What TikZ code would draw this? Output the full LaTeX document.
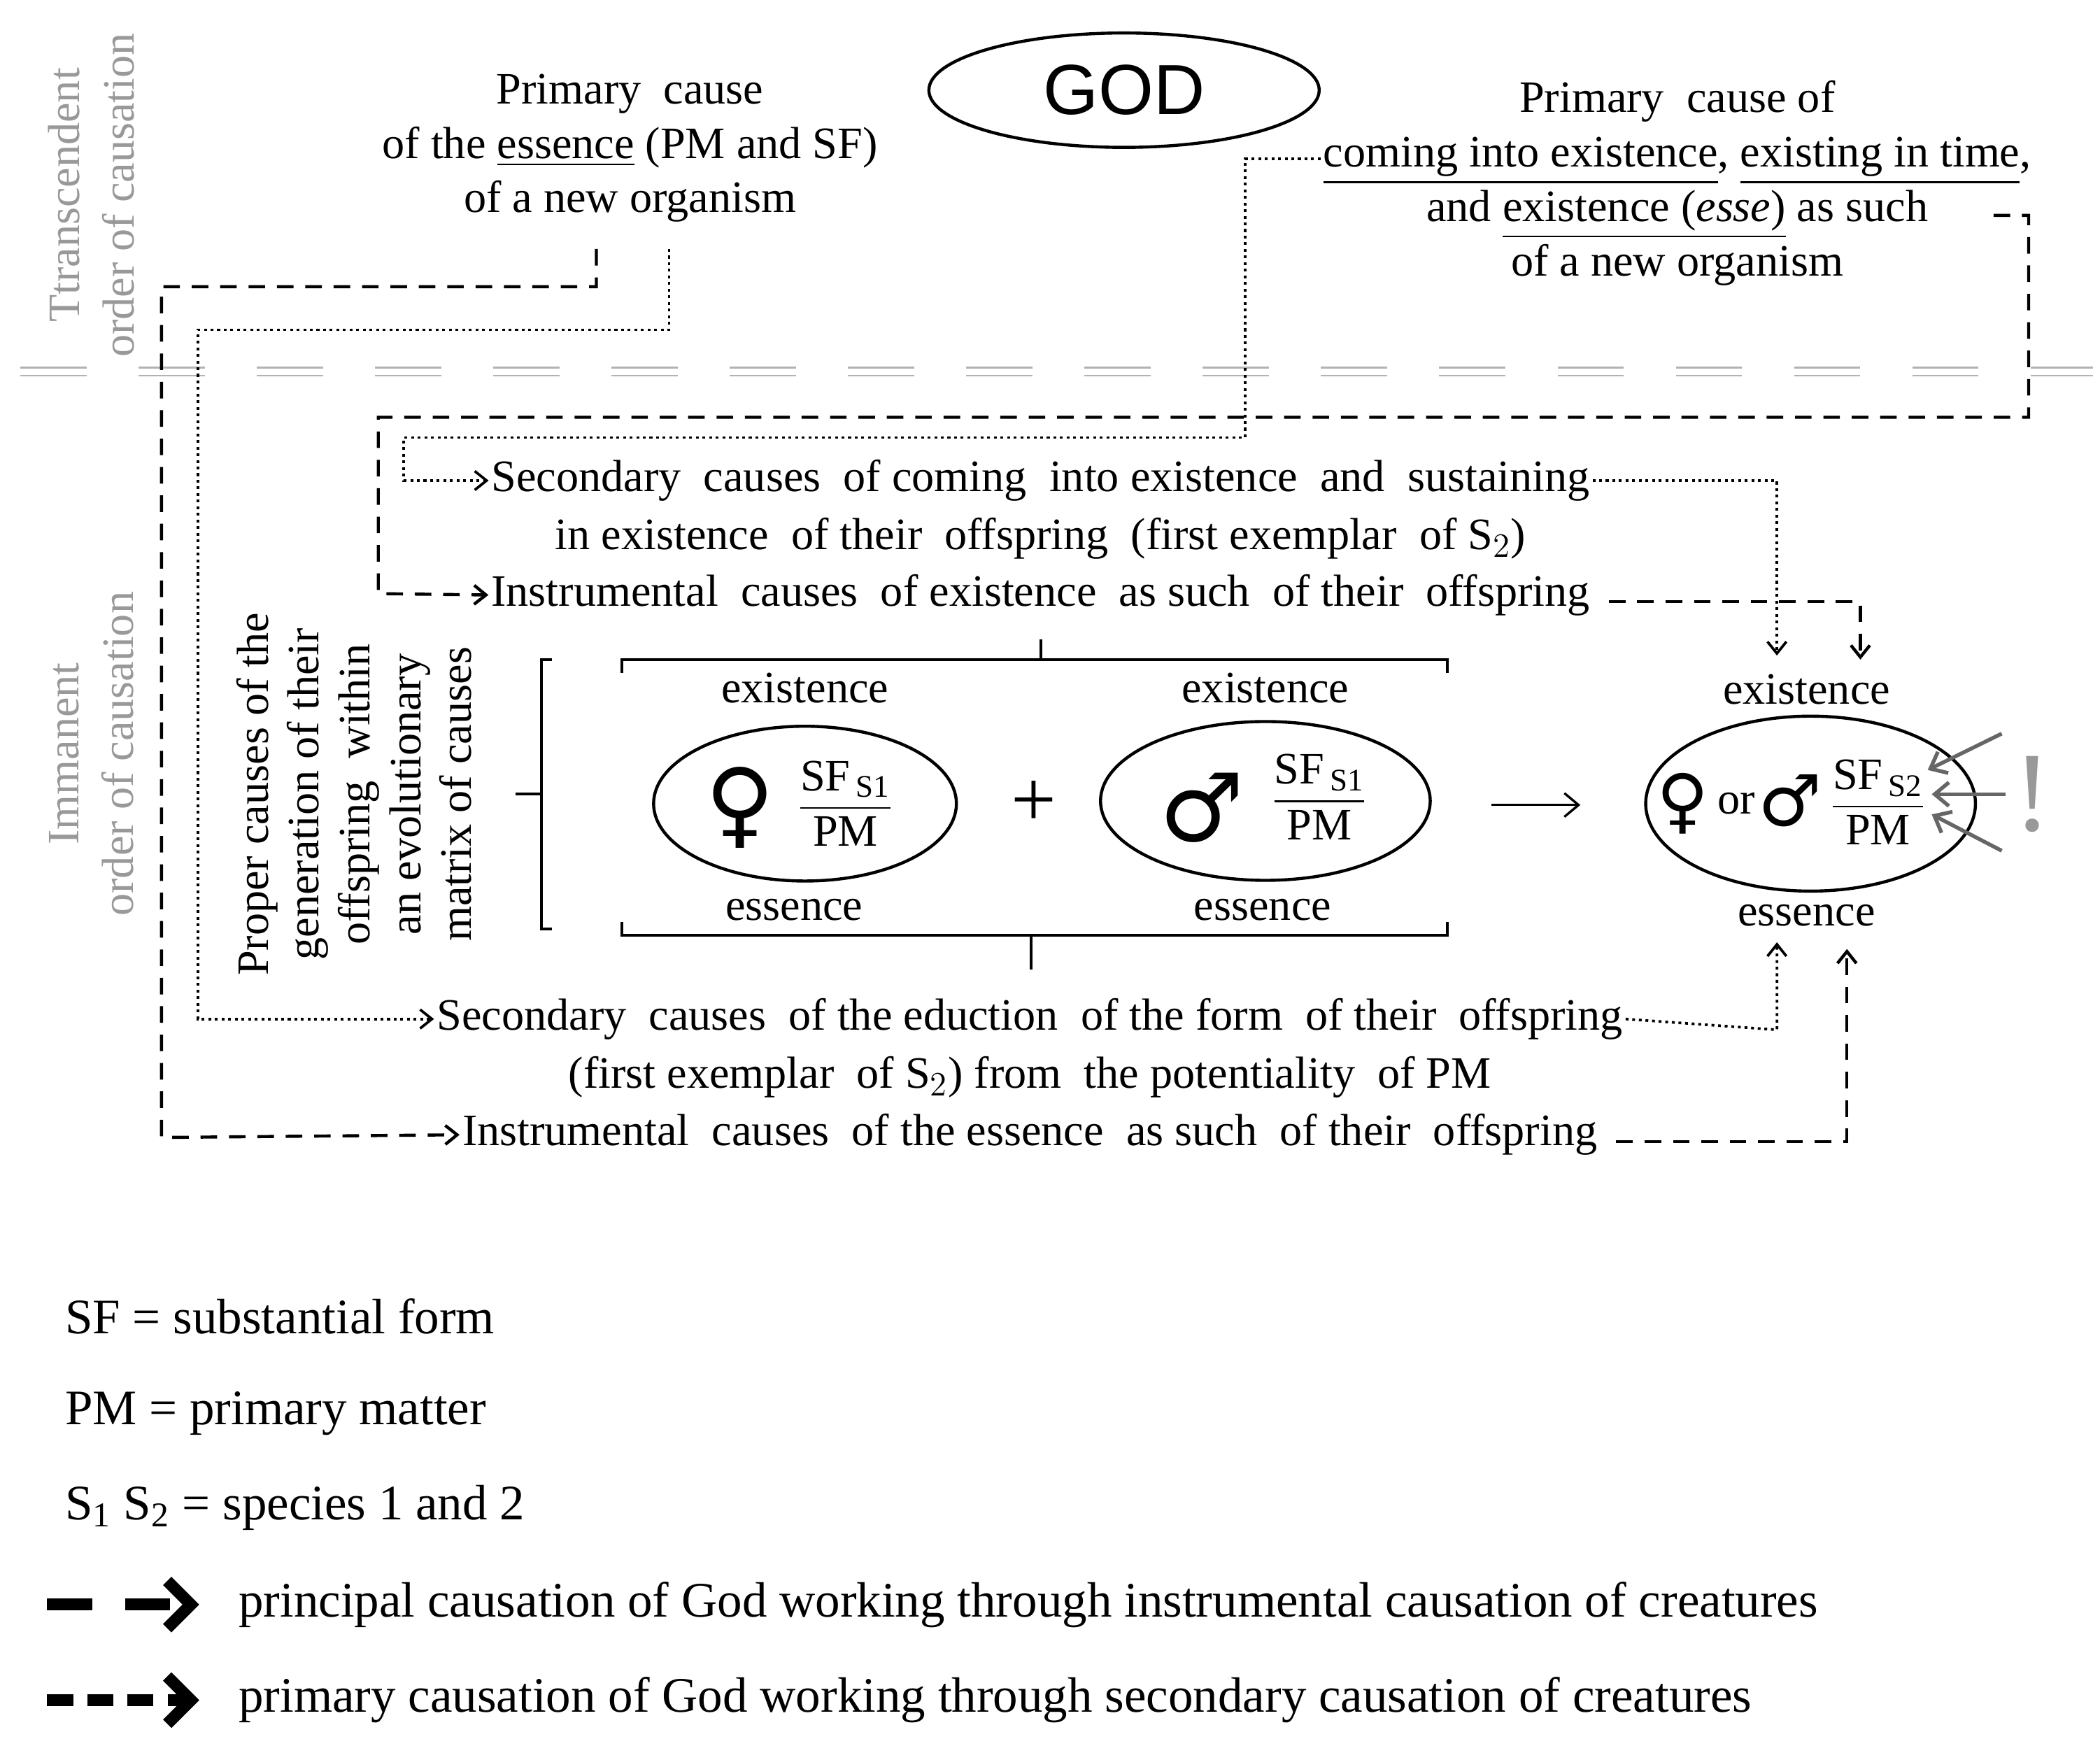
\documentclass[tikz,border=0pt]{standalone}
\usepackage{amsmath}
\usepackage{fontspec}
\setmainfont{Liberation Serif}
\newfontfamily\symfont{DejaVu Sans}
\newfontfamily\godfont{Liberation Sans}
\usetikzlibrary{arrows.meta,shapes,positioning}
\tikzset{
  txt/.style={font=\fontsize{19}{24}\selectfont, inner sep=1pt},
  lgd/.style={font=\fontsize{21}{25}\selectfont, anchor=west, inner sep=0pt},
  prin/.style={line width=1.3pt, dash pattern=on 7pt off 5pt},
  prim/.style={line width=1.1pt, dash pattern=on 1.2pt off 1.6pt},
  tip/.style={-{Straight Barb[length=5pt,width=8pt]}},
  order/.style={font=\fontsize{19}{23}\selectfont, text=gray!80, rotate=90, align=center},
  oval/.style={ellipse, draw, line width=1.3pt},
  sym/.style={font=\symfont\fontsize{40}{40}\selectfont, inner sep=0pt},
}
\newcommand{\frc}[1]{$\dfrac{\text{SF}_{\,\text{S#1}}}{\text{PM}}$}
\begin{document}
\begin{tikzpicture}[x=0.02cm, y=-0.02cm]
  \useasboundingbox (0,0) rectangle (1560,1297);

  % orders of causation
  \node[order] (trans) at (68,145) {Ttranscendent\\order of causation};
  \node[order] (imma) at (68,560) {Immanent\\order of causation};
  \draw[gray!60, line width=0.8pt, dash pattern=on 28pt off 22pt] (15,273) -- (1555,273) (15,279) -- (1555,279);

  % top
  \node[oval, minimum width=5.8cm, minimum height=1.7cm, font=\godfont\fontsize{30}{30}\selectfont] (god) at (835,67) {GOD};
  \node[txt, align=center] (pcess) at (468,110) {Primary\ \ cause\\[-1pt]of the \underline{essence} (PM and SF)\\[-1pt]of a new organism};
  \node[txt, align=center] (pcex) at (1246,136) {Primary\ \ cause of\\[-1pt]\underline{coming\ into existence}, \underline{existing\ in time},\\[-1pt]and \underline{existence (\emph{esse})} as such\\[-1pt]of a new organism};

  % middle texts
  \node[txt] (secex) at (773,357) {Secondary\ \ causes\ \ of coming\ \ into existence\ \ and\ \ sustaining};
  \node[txt] (secex2) at (773,400) {in existence\ \ of their\ \ offspring\ \ (first exemplar\ \ of S$_2$)};
  \node[txt] (insex) at (773,442) {Instrumental\ \ causes\ \ of existence\ \ as such\ \ of their\ \ offspring};
  \node[txt] (secess) at (765,757) {Secondary\ \ causes\ \ of the eduction\ \ of the form\ \ of their\ \ offspring};
  \node[txt] (secess2) at (765,800) {(first exemplar\ \ of S$_2$) from\ \ the potentiality\ \ of PM};
  \node[txt] (insess) at (765,843) {Instrumental\ \ causes\ \ of the essence\ \ as such\ \ of their\ \ offspring};

  % parents and offspring
  \node[oval, minimum width=4.5cm, minimum height=2.3cm] (fem) at (598,597) {};
  \node[oval, minimum width=4.9cm, minimum height=2.36cm] (mal) at (940,595) {};
  \node[oval, minimum width=4.9cm, minimum height=2.6cm] (off) at (1345,597) {};
  \node[sym] (fsym) at (550,600) {♀};
  \node[txt] (ffrac) at (628,597) {\frc{1}};
  \node[sym] (msym) at (893,600) {♂};
  \node[txt] (mfrac) at (980,592) {\frc{1}};
  \node[txt, font=\fontsize{34}{34}\selectfont] (plus) at (768,597) {+};
  \node[sym, font=\symfont\fontsize{30}{30}\selectfont] (ofsym) at (1250,597) {♀};
  \node[txt] (or) at (1290,597) {or};
  \node[sym, font=\symfont\fontsize{30}{30}\selectfont] (omsym) at (1330,595) {♂};
  \node[txt] (ofrac) at (1395,596) {\frc{2}};
  \foreach \n/\x/\y/\t in {fex/598/511/existence, fes/590/676/essence, mex/940/511/existence, mes/938/676/essence, oex/1342/512/existence, oes/1342/680/essence}
    \node[txt] (\n) at (\x,\y) {\t};
  \coordinate (ar1) at (1108,598);
  \coordinate (ar2) at (1174,598);
  \draw[-{Straight Barb[length=6pt,width=10pt]}, line width=1pt] (ar1) -- (ar2);

  % brackets
  \draw[line width=1.2pt] (462,500) -- (462,490) -- (1075,490) -- (1075,500) (773,490) -- (773,475);
  \draw[line width=1.2pt] (462,685) -- (462,695) -- (1075,695) -- (1075,685) (766,695) -- (766,720);
  \draw[line width=1.2pt] (410,490) -- (402,490) -- (402,690) -- (410,690) (402,590) -- (383,590);
  \node[txt, rotate=90, align=center, font=\fontsize{19}{21.5}\selectfont] (proper) at (263,590) {Proper causes of the\\generation of their\\offspring\ \ within\\an evolutionary\\matrix of causes};

  % gray arrows and exclamation
  \foreach \a/\b/\c/\d in {1487/545/1432/572, 1490/590/1435/590, 1487/632/1435/605}
    \draw[gray!80!black, line width=1.6pt, -{Straight Barb[length=6pt,width=10pt]}] (\a,\b) -- (\c,\d);
  \node[font=\fontsize{48}{48}\selectfont, text=gray!80] (excl) at (1510,590) {!};

  % connectors: essence
  \draw[prin, tip] (443,185) -- (443,213) -- (120,213) -- (120,845) -- (insess.west);
  \draw[prim, tip] (497,185) -- (497,245) -- (147,245) -- (147,757) -- (secess.west);
  \draw[prim, tip] (secess.east) -- (1320,765) -- (1320,700);
  \draw[prin, tip] (insess.east) ++(12,5) -- (1372,848) -- (1372,705);
  % connectors: existence
  \draw[prim, tip] (pcex.west) ++(0,-18) -- (925,118) -- (925,325) -- (300,325) -- (300,357) -- (secex.west);
  \draw[prin, tip] (pcex.east) ++(-30,24) -- (1507,160) -- (1507,310) -- (281,310) -- (281,441) -- (insex.west);
  \draw[prim, tip] (secex.east) -- (1320,357) -- (1320,487);
  \draw[prin, tip] (insex.east) ++(12,5) -- (1382,447) -- (1382,490);

  % legend
  \node[lgd] (lsf) at (48,978) {SF = substantial form};
  \node[lgd] (lpm) at (48,1050) {PM = primary matter};
  \node[lgd] (lss) at (48,1120) {S\textsubscript{1} S\textsubscript{2} = species 1 and 2};
  \node[lgd] (lprin) at (177,1192) {principal causation of God working through instrumental causation of creatures};
  \node[lgd] (lprim) at (177,1263) {primary causation of God working through secondary causation of creatures};
  \coordinate (p0) at (35,1192);
  \coordinate (q0) at (35,1263);
  \draw[line width=5pt, dash pattern=on 19pt off 14pt, -{Straight Barb[length=10pt,width=20pt]}] (p0) -- ++(113,0);
  \draw[line width=5pt, dash pattern=on 11pt off 6pt, -{Straight Barb[length=10pt,width=20pt]}] (q0) -- ++(113,0);
\end{tikzpicture}
\end{document}
